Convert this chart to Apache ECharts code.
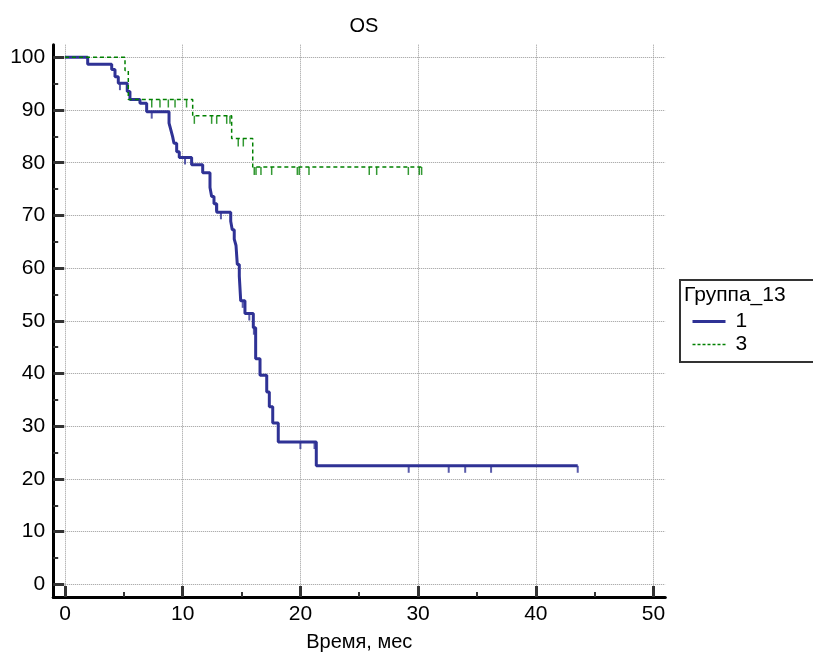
<!DOCTYPE html>
<html><head><meta charset="utf-8">
<script src="https://cdn.jsdelivr.net/npm/echarts@6/dist/echarts.min.js"></script>
<style>html,body{margin:0;padding:0;background:#fff}#c{width:813px;height:652px}</style>
</head><body><div id="c"></div>
<script>
// ---- data ----
const xTicks = [0, 10, 20, 30, 40, 50];
const xMinorTicks = [5, 15, 25, 35, 45];
const yTicks = [0, 10, 20, 30, 40, 50, 60, 70, 80, 90, 100];
const yMinorTicks = [5, 15, 25, 35, 45, 55, 65, 75, 85, 95];

const seriesNames = ['1', '3'];

// group 1: event times and survival (%) after each step
const g1Times = [0, 1.93, 3.97, 4.25, 4.53, 5.29, 5.52, 6.37, 6.94, 8.84, 9.0, 9.15, 9.26, 9.49, 9.71, 10.76, 11.7, 12.32, 12.46, 12.66, 12.89, 14.08, 14.21, 14.38, 14.53, 14.64, 14.81, 14.93, 15.29, 16.0, 16.2, 16.57, 17.14, 17.36, 17.65, 18.12, 21.35, 43.56];
const g1Surv  = [100, 98.7, 97.7, 96.3, 95.1, 93.5, 92.0, 91.3, 89.7, 87.5, 86.2, 84.9, 83.7, 82.1, 81.0, 79.6, 78.1, 75.3, 73.6, 72.2, 70.6, 68.9, 67.3, 65.5, 64.3, 60.7, 58.5, 53.8, 51.4, 48.7, 42.8, 39.7, 36.5, 33.7, 30.6, 27.0, 22.5, 22.5];
const g1Censored = [4.67, 7.37, 10.2, 12.83, 13.25, 15.1, 15.66, 16.05, 20.0, 21.2, 29.2, 32.6, 34.0, 36.2, 43.56];

// group 3
const g3Times = [0, 5.1, 5.38, 10.85, 14.16, 15.95, 30.3];
const g3Surv  = [100, 97.5, 92.0, 88.9, 84.6, 79.2, 79.2];
const g3Censored = [7.37, 8.07, 8.78, 9.35, 10.33, 10.99, 12.46, 12.89, 13.74, 14.02, 14.72, 15.15, 16.08, 16.23, 16.65, 17.56, 19.74, 19.9, 20.73, 25.85, 26.48, 29.17, 30.1, 30.3];

// ---- helpers ----
function survAt(times, surv, t) {
  let v = surv[0];
  for (let i = 0; i < times.length; i++) { if (times[i] <= t + 1e-9) v = surv[i]; }
  return v;
}
const zip = (a, b) => a.map((v, i) => [v, b[i]]);
const cens = (c, times, surv) => c.map(t => [t, survAt(times, surv, t)]);

const FONT = 'Liberation Sans, Arial, sans-serif';
const BLUE = '#2f3295';
const GREEN = '#008000';

const chart = echarts.init(document.getElementById('c'), null, {renderer: 'canvas'});
const gridLine = {show: true, lineStyle: {color: '#9a9a9a', type: 'dotted', width: 1}};
chart.setOption({
  animation: false,
  backgroundColor: '#fff',
  title: {text: 'OS', left: 359, top: 11, textAlign: 'center',
          textStyle: {fontFamily: FONT, fontSize: 20, fontWeight: 'normal', color: '#000'}},
  grid: {left: 53.2, right: 147.7, top: 44.7, bottom: 55, containLabel: false, outerBoundsMode: 'none'},
  legend: {
    data: [
      {name: seriesNames[0], lineStyle: {width: 3, color: BLUE}},
      {name: seriesNames[1], lineStyle: {width: 1.5, color: GREEN, type: [3, 2]}}
    ],
    orient: 'vertical', left: 680, top: 280,
    borderColor: '#333', borderWidth: 2, padding: [31, 100, 7, 11],
    itemWidth: 33, itemHeight: 14, itemGap: 2,
    itemStyle: {opacity: 0},
    textStyle: {fontFamily: FONT, fontSize: 21, color: '#000', padding: [0, 0, 0, 5]}
  },
  graphic: [{type: 'text', left: 684, top: 285,
             style: {text: 'Группа_13', font: '21px Liberation Sans, Arial, sans-serif', fill: '#000'}}],
  xAxis: [{
    type: 'value', min: -1, max: 51,
    name: 'Время, мес', nameLocation: 'middle', nameGap: 35,
    nameTextStyle: {fontFamily: FONT, fontSize: 20, color: '#000'},
    axisLine: {show: true, onZero: false, lineStyle: {color: '#000', width: 3}},
    axisTick: {show: true, inside: true, length: 11, customValues: xTicks, lineStyle: {color: '#333', width: 3}},
    axisLabel: {customValues: xTicks, fontFamily: FONT, fontSize: 21, color: '#000', margin: 7},
    splitLine: gridLine
  }, {
    type: 'value', min: -1, max: 51, position: 'bottom', gridIndex: 0,
    axisLine: {show: false, onZero: false}, axisLabel: {show: false}, splitLine: {show: false},
    axisTick: {show: true, inside: true, length: 5, customValues: xMinorTicks, lineStyle: {color: '#333', width: 2}}
  }],
  yAxis: [{
    type: 'value', min: -2.4, max: 102.4,
    axisLine: {show: true, onZero: false, lineStyle: {color: '#000', width: 3}},
    axisTick: {show: true, inside: true, length: 11, customValues: yTicks, lineStyle: {color: '#333', width: 3}},
    axisLabel: {customValues: yTicks, fontFamily: FONT, fontSize: 21, color: '#000', margin: 8},
    splitLine: gridLine
  }, {
    type: 'value', min: -2.4, max: 102.4, position: 'left', gridIndex: 0,
    axisLine: {show: false, onZero: false}, axisLabel: {show: false}, splitLine: {show: false},
    axisTick: {show: true, inside: true, length: 5, customValues: yMinorTicks, lineStyle: {color: '#333', width: 2}}
  }],
  series: [
    {name: seriesNames[0], type: 'line', step: 'end', symbol: 'none', z: 3,
     data: zip(g1Times, g1Surv), color: BLUE, lineStyle: {color: BLUE, width: 3}},
    {name: seriesNames[1], type: 'line', step: 'end', symbol: 'none', z: 5,
     data: zip(g3Times, g3Surv), color: GREEN, lineStyle: {color: GREEN, width: 1.5, type: [4, 3]}},
    {name: 'c1', type: 'scatter', symbol: 'rect', symbolSize: [2, 7], symbolOffset: [0, 3.5], z: 4,
     data: cens(g1Censored, g1Times, g1Surv), itemStyle: {color: BLUE}, silent: true},
    {name: 'c3', type: 'scatter', symbol: 'rect', symbolSize: [1.5, 8], symbolOffset: [0, 4], z: 6,
     data: cens(g3Censored, g3Times, g3Surv), itemStyle: {color: GREEN}, silent: true}
  ]
});
</script>
</body></html>
